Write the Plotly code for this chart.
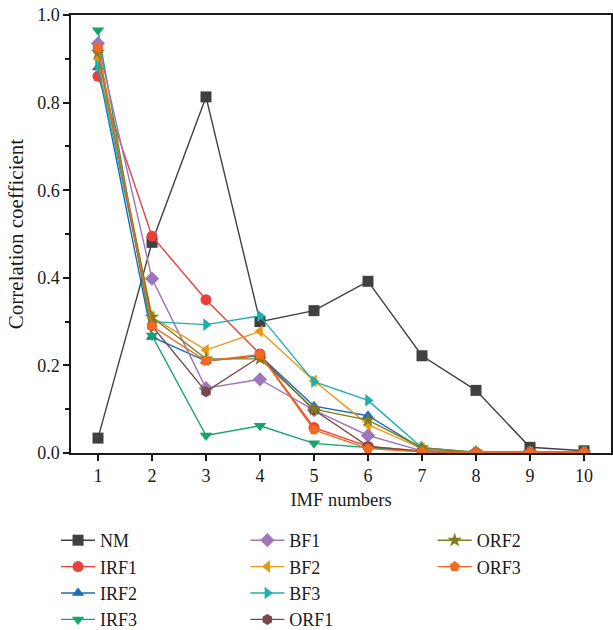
import plotly.graph_objects as go

imf = [1, 2, 3, 4, 5, 6, 7, 8, 9, 10]
x_ticks = [1, 2, 3, 4, 5, 6, 7, 8, 9, 10]
y_ticks = [0.0, 0.2, 0.4, 0.6, 0.8, 1.0]
y_tick_labels = ["0.0", "0.2", "0.4", "0.6", "0.8", "1.0"]

NM   = [0.034, 0.481, 0.813, 0.300, 0.325, 0.392, 0.222, 0.143, 0.013, 0.005]
IRF1 = [0.860, 0.495, 0.350, 0.226, 0.058, 0.015, 0.004, 0.001, 0.001, 0.001]
IRF2 = [0.880, 0.265, 0.210, 0.222, 0.107, 0.085, 0.010, 0.001, 0.001, 0.001]
IRF3 = [0.965, 0.268, 0.040, 0.062, 0.022, 0.012, 0.003, 0.001, 0.001, 0.001]
BF1  = [0.935, 0.398, 0.148, 0.168, 0.098, 0.040, 0.005, 0.001, 0.001, 0.001]
BF2  = [0.900, 0.310, 0.235, 0.278, 0.165, 0.065, 0.010, 0.001, 0.001, 0.001]
BF3  = [0.885, 0.300, 0.293, 0.313, 0.163, 0.120, 0.012, 0.002, 0.001, 0.001]
ORF1 = [0.920, 0.290, 0.140, 0.220, 0.098, 0.015, 0.004, 0.001, 0.001, 0.001]
ORF2 = [0.915, 0.310, 0.215, 0.215, 0.100, 0.075, 0.012, 0.001, 0.001, 0.001]
ORF3 = [0.925, 0.290, 0.210, 0.225, 0.053, 0.010, 0.003, 0.001, 0.001, 0.001]

series = [
    ("NM", NM, "#404040", "square", "legend"),
    ("IRF1", IRF1, "#E8413A", "circle", "legend"),
    ("IRF2", IRF2, "#1F6CB8", "triangle-up", "legend"),
    ("IRF3", IRF3, "#17A56C", "triangle-down", "legend"),
    ("BF1", BF1, "#9E77B8", "diamond", "legend2"),
    ("BF2", BF2, "#E29A17", "triangle-left", "legend2"),
    ("BF3", BF3, "#1FB0AD", "triangle-right", "legend2"),
    ("ORF1", ORF1, "#7A4848", "hexagon", "legend2"),
    ("ORF2", ORF2, "#7E7E1E", "star", "legend3"),
    ("ORF3", ORF3, "#F26A1E", "pentagon", "legend3"),
]

FONT = "Liberation Serif"
INK = "#1a1a1a"

fig = go.Figure()
for name, vals, color, sym, lg in series:
    fig.add_trace(go.Scatter(
        x=imf, y=vals, name=name, mode="lines+markers",
        line=dict(color=color, width=1.4),
        marker=dict(symbol=sym, size=11, color=color),
        legend=lg,
    ))

PLOT_L, PLOT_W = 71, 542
leg_common = dict(
    font=dict(family=FONT, size=18, color=INK),
    bgcolor="rgba(0,0,0,0)", yanchor="top", xanchor="left",
    xref="paper", yref="container",
    tracegroupgap=0, itemwidth=34,
)
LEG_Y = 1 - 522 / 630
fig.update_layout(
    width=613, height=630,
    margin=dict(l=PLOT_L, r=0, t=15, b=177),
    plot_bgcolor="white", paper_bgcolor="white",
    font=dict(family=FONT, size=18, color=INK),
    legend=dict(x=(56 - PLOT_L) / PLOT_W, y=LEG_Y, **leg_common),
    legend2=dict(x=(246 - PLOT_L) / PLOT_W, y=LEG_Y, **leg_common),
    legend3=dict(x=(434 - PLOT_L) / PLOT_W, y=LEG_Y, **leg_common),
    xaxis=dict(
        range=[0.5, 10.5], tickmode="array", tickvals=x_ticks,
        ticks="outside", ticklen=6, tickwidth=1.5, tickcolor=INK,
        showline=True, linecolor=INK, linewidth=1.5, mirror=True,
        showgrid=False, zeroline=False,
        title=dict(text="IMF numbers", font=dict(family=FONT, size=18.5), standoff=8),
        tickfont=dict(family=FONT, size=18),
    ),
    yaxis=dict(
        range=[0, 1.0], tickmode="array", tickvals=y_ticks, ticktext=y_tick_labels,
        ticks="outside", ticklen=6, tickwidth=1.5, tickcolor=INK,
        minor=dict(dtick=0.1, ticks="outside", ticklen=4, tickcolor=INK, tickwidth=1.5),
        showline=True, linecolor=INK, linewidth=1.5, mirror=True,
        showgrid=False, zeroline=False,
        title=dict(text="Correlation coefficient", font=dict(family=FONT, size=21), standoff=8),
        tickfont=dict(family=FONT, size=18),
    ),
)

fig.write_html("out.html")
